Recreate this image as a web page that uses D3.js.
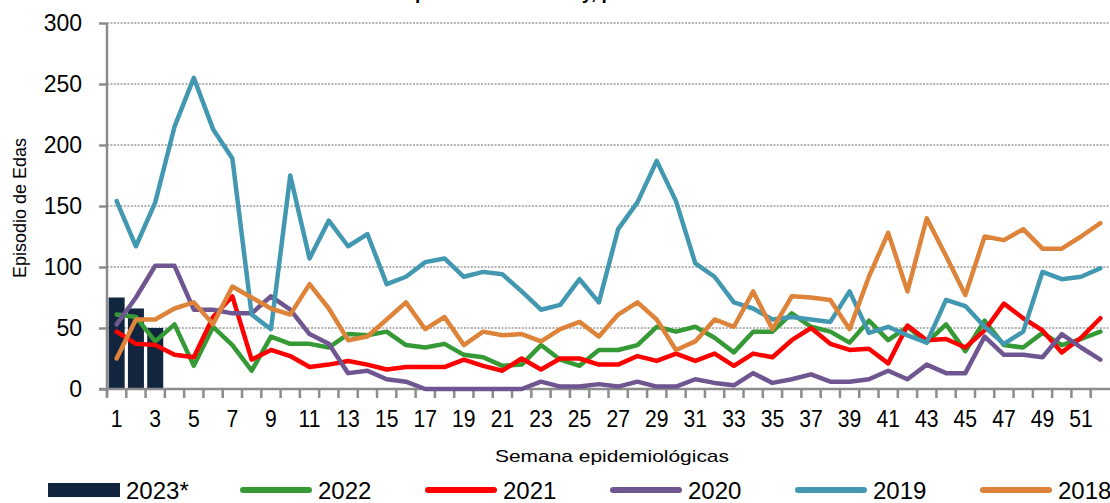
<!DOCTYPE html>
<html>
<head>
<meta charset="utf-8">
<script src="https://cdn.jsdelivr.net/npm/d3@7"></script>
<style>
  body { margin: 0; background: #fff; }
  svg { display: block; font-family: Arial, "Liberation Sans", sans-serif; }
</style>
</head>
<body>
<svg id="chart" width="1110" height="503"></svg>
<script>
const weeks = d3.range(1, 53);
const yTicks = [0, 50, 100, 150, 200, 250, 300];

// 2023 only has the first three weeks (bars)
const s2023 = [75, 66, 50];
const s2022 = [61, 59, 39, 53, 19, 51, 36, 15, 43, 37, 37, 34, 45, 44, 47, 36, 34, 37, 28, 26,
  19, 20, 36, 24, 19, 32, 32, 36, 51, 47, 51, 42, 30, 47, 47, 62, 51, 47, 38, 56,
  40, 51, 38, 53, 31, 56, 36, 34, 46, 36, 41, 47];
const s2021 = [47, 37, 36, 28, 26, 59, 76, 24, 32, 27, 18, 20, 23, 20, 16, 18, 18, 18, 24, 19,
  15, 25, 16, 25, 25, 20, 20, 27, 23, 29, 23, 29, 19, 29, 26, 40, 50, 37, 32, 33,
  21, 52, 40, 41, 34, 48, 70, 58, 48, 30, 42, 58];
const s2020 = [53, 75, 101, 101, 65, 65, 62, 62, 76, 65, 45, 37, 13, 15, 8, 6, 0, 0, 0, 0,
  0, 0, 6, 2, 2, 4, 2, 6, 2, 2, 8, 5, 3, 13, 5, 8, 12, 6, 6, 8,
  15, 8, 20, 13, 13, 43, 28, 28, 26, 45, 34, 24];
const s2019 = [154, 117, 153, 215, 255, 213, 189, 61, 49, 175, 107, 138, 117, 127, 86, 92, 104, 107, 92, 96,
  94, 80, 65, 69, 90, 71, 131, 153, 187, 154, 103, 92, 71, 66, 57, 59, 57, 55, 80, 46,
  51, 44, 38, 73, 68, 51, 37, 47, 96, 90, 92, 99];
const s2018 = [25, 57, 57, 66, 71, 53, 84, 75, 66, 61, 86, 66, 40, 43, 57, 71, 49, 59, 36, 47,
  44, 45, 39, 49, 55, 43, 61, 71, 57, 32, 39, 57, 51, 80, 49, 76, 75, 73, 49, 92,
  128, 80, 140, 109, 77, 125, 122, 131, 115, 115, 125, 136];

const lineSeries = [
  { name: "2022", values: s2022, color: "#359a35" },
  { name: "2021", values: s2021, color: "#ff0000" },
  { name: "2020", values: s2020, color: "#6f5690" },
  { name: "2019", values: s2019, color: "#4298b0" },
  { name: "2018", values: s2018, color: "#de843a" }
];
const barColor = "#12253f";
const axisColor = "#8c8c8c";

const svg = d3.select("#chart");
const plotLeft = 107, plotRight = 1110, plotTop = 23, plotBottom = 389;

const x = d3.scaleBand().domain(weeks).range([plotLeft, plotRight]).padding(0);
const y = d3.scaleLinear().domain([0, 300]).range([plotBottom, plotTop]);
const cx = w => x(w) + x.bandwidth() / 2;

// title (cut off by the top edge, only descenders show)
const title = svg.append("text")
  .attr("y", -1)
  .attr("font-size", 19)
  .attr("font-weight", "bold")
  .attr("fill", "#000")
  .text("Episodios de EDAs y, periodo 2018 - 2023");
title.attr("x", 415 - title.node().getStartPositionOfChar(1).x);

// grid lines
svg.append("g")
  .selectAll("line")
  .data(yTicks.filter(d => d > 0))
  .join("line")
  .attr("x1", plotLeft).attr("x2", plotRight)
  .attr("y1", d => y(d)).attr("y2", d => y(d))
  .attr("stroke", "#9a9a9a")
  .attr("stroke-width", 1.6)
  .attr("stroke-dasharray", "2,1.4");

// y axis
const yAxis = svg.append("g")
  .attr("transform", `translate(${plotLeft},0)`)
  .call(d3.axisLeft(y).tickValues(yTicks).tickSize(8).tickPadding(17));
yAxis.select(".domain").attr("stroke", axisColor).attr("stroke-width", 2.5)
  .attr("d", `M0,${plotTop}V${plotBottom + 8}`);
yAxis.selectAll(".tick line").attr("stroke", axisColor).attr("stroke-width", 2.5);
yAxis.selectAll(".tick text").attr("font-size", 23).attr("fill", "#000")
  .attr("font-family", "Arial, 'Liberation Sans', sans-serif");

// bars for 2023
svg.append("g")
  .selectAll("rect")
  .data(s2023)
  .join("rect")
  .attr("x", (d, i) => x(weeks[i]) + x.bandwidth() * 0.085)
  .attr("width", x.bandwidth() * 0.83)
  .attr("y", d => y(d))
  .attr("height", d => y(0) - y(d))
  .attr("fill", barColor);

// x axis
const xAxis = svg.append("g")
  .attr("transform", `translate(0,${plotBottom})`)
  .call(d3.axisBottom(x).tickValues(weeks.filter(w => w % 2 === 1)).tickSize(0).tickPadding(21));
xAxis.select(".domain").attr("stroke", axisColor).attr("stroke-width", 2.5)
  .attr("d", `M${plotLeft - 8},0H${plotRight}`);
xAxis.selectAll(".tick text").attr("font-size", 24).attr("fill", "#000")
  .attr("font-family", "Arial, 'Liberation Sans', sans-serif")
  .attr("transform", "scale(0.88,1)");
xAxis.selectAll(".boundary")
  .data(weeks)
  .join("line")
  .attr("class", "boundary")
  .attr("x1", w => x(w)).attr("x2", w => x(w))
  .attr("y1", 0).attr("y2", 9)
  .attr("stroke", axisColor)
  .attr("stroke-width", 2.5);

// lines
const line = d3.line()
  .x((d, i) => cx(weeks[i]))
  .y(d => y(d));

svg.append("g")
  .selectAll("path")
  .data(lineSeries)
  .join("path")
  .attr("d", d => line(d.values))
  .attr("fill", "none")
  .attr("stroke", d => d.color)
  .attr("stroke-width", 4.5)
  .attr("stroke-linejoin", "round")
  .attr("stroke-linecap", "round");

// axis titles
svg.append("text")
  .attr("transform", "translate(26,208) rotate(-90)")
  .attr("text-anchor", "middle")
  .attr("font-size", 18)
  .attr("fill", "#000")
  .text("Episodio de Edas");

svg.append("text")
  .attr("x", 612)
  .attr("y", 462)
  .attr("text-anchor", "middle")
  .attr("font-size", 17)
  .attr("textLength", 234)
  .attr("lengthAdjust", "spacingAndGlyphs")
  .attr("fill", "#000")
  .text("Semana  epidemiológicas");

// legend
const legendItems = [{ name: "2023*", color: barColor, bar: true }]
  .concat(lineSeries.map(s => ({ name: s.name, color: s.color, bar: false })));
const legend = svg.append("g")
  .selectAll("g")
  .data(legendItems)
  .join("g")
  .attr("transform", (d, i) => `translate(${i === 0 ? 48 : 240 + (i - 1) * 185},490)`);

legend.filter(d => d.bar).append("rect")
  .attr("x", 0).attr("y", -7)
  .attr("width", 72).attr("height", 14)
  .attr("fill", d => d.color);
legend.filter(d => !d.bar).append("line")
  .attr("x1", 3).attr("x2", 69)
  .attr("y1", 0).attr("y2", 0)
  .attr("stroke", d => d.color)
  .attr("stroke-width", 6)
  .attr("stroke-linecap", "round");
legend.append("text")
  .attr("x", 78)
  .attr("y", 9)
  .attr("font-size", 24)
  .attr("fill", "#000")
  .text(d => d.name);
</script>
</body>
</html>
